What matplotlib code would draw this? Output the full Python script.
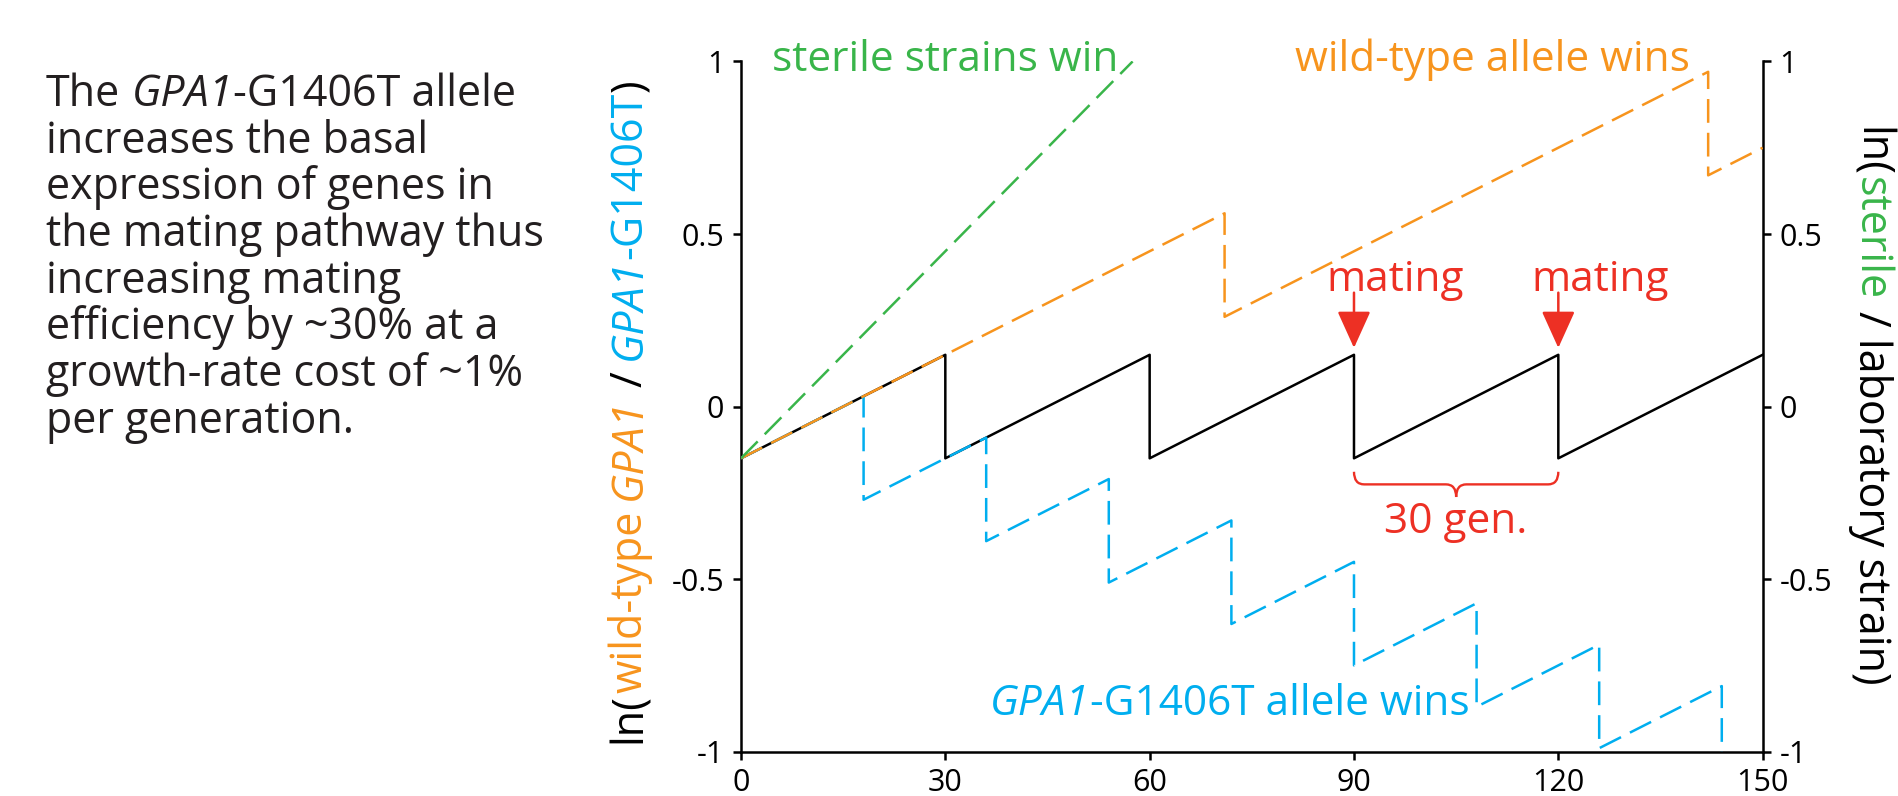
import matplotlib.pyplot as plt
from matplotlib.path import Path
from matplotlib.patches import PathPatch

plt.rcParams['font.family'] = ['Open Sans', 'DejaVu Sans']

# ---- data ----
gen_lab = [0, 30, 30, 60, 60, 90, 90, 120, 120, 150]
ln_lab = [-0.15, 0.15, -0.15, 0.15, -0.15, 0.15, -0.15, 0.15, -0.15, 0.15]

gen_wt = [0, 71, 71, 142, 142, 150]
ln_wt = [-0.15, 0.56, 0.26, 0.97, 0.67, 0.75]

gen_mut = [0, 18, 18, 36, 36, 54, 54, 72, 72, 90, 90, 108, 108, 126, 126, 144, 144]
ln_mut = [-0.15, 0.03, -0.27, -0.09, -0.39, -0.21, -0.51, -0.33, -0.63,
          -0.45, -0.75, -0.57, -0.87, -0.69, -0.99, -0.81, -1.11]

gen_sterile = [0, 57.5]
ln_sterile = [-0.15, 1.0]

mating_gen = [90, 120]

xticks = [0, 30, 60, 90, 120, 150]
xticklabels = ['0', '30', '60', '90', '120', '150']
yticks = [-1, -0.5, 0, 0.5, 1]
yticklabels = ['-1', '-0.5', '0', '0.5', '1']

para_lines = [
    [('The ', None), ('GPA1', 'italic'), ('-G1406T allele', None)],
    [('increases the basal', None)],
    [('expression of genes in', None)],
    [('the mating pathway thus', None)],
    [('increasing mating', None)],
    [('efficiency by ~30% at a', None)],
    [('growth-rate cost of ~1%', None)],
    [('per generation.', None)],
]

# colours
ink = '#231F20'
orange = '#F7941D'
green = '#39B54A'
blue = '#00AEEF'
red = '#ED3024'

fig = plt.figure(figsize=(18.99, 7.96), dpi=100)
ax = fig.add_axes([0.3902, 0.0557, 0.5380, 0.8671])
r = fig.canvas.get_renderer()
W, H = fig.bbox.width, fig.bbox.height

dash = (9.5, 4)
lw = 1.8
ax.plot(gen_lab, ln_lab, color='black', lw=lw, zorder=2)
ax.plot(gen_mut, ln_mut, color=blue, lw=lw, dashes=dash, zorder=3)
ax.plot(gen_wt, ln_wt, color=orange, lw=lw, dashes=dash, zorder=4)
ax.plot(gen_sterile, ln_sterile, color=green, lw=lw, dashes=dash, zorder=4)

ax.set_xlim(0, 150)
ax.set_ylim(-1, 1)
ax.set_xticks(xticks)
ax.set_xticklabels(xticklabels)
ax.set_yticks(yticks)
ax.set_yticklabels(yticklabels)
ax.spines['top'].set_visible(False)
for s in ['left', 'right', 'bottom']:
    ax.spines[s].set_linewidth(1.8)
ax.tick_params(direction='out', length=6, width=1.8, labelsize=22, pad=6,
               colors='black')
ax.tick_params(axis='y', right=True, labelright=True)


def piece_width(s, size, style):
    # advance width of s, spaces included (measured between two bars)
    t = fig.text(0, 0, '|' + s + '|', fontsize=size, style=style or 'normal')
    w = t.get_window_extent(r).width
    t.set_text('||')
    w -= t.get_window_extent(r).width
    t.remove()
    return w


def multi_text(px, py, pieces, size, align='left', rotation=0):
    # pieces: (text, colour, style); px, py in figure pixels from bottom-left
    widths = [piece_width(s, size, st) for s, c, st in pieces]
    sw = piece_width(' ', size, None)
    total = sum(widths)
    pos = -{'left': 0, 'center': total / 2, 'right': total}[align]
    for (s, c, st), w in zip(pieces, widths):
        lead = len(s) - len(s.lstrip(' '))
        p = pos + lead * sw
        if rotation == 0:
            x, y, kw = px + p, py, dict(ha='left', va='baseline')
        elif rotation == 90:
            x, y, kw = px, py + p, dict(ha='center', va='bottom')
        else:
            x, y, kw = px, py - p, dict(ha='center', va='top')
        fig.text(x / W, y / H, s.strip(' '), color=c, fontsize=size,
                 style=st or 'normal', rotation=rotation, **kw)
        pos += w


def data_px(x, y):
    return ax.transData.transform((x, y))


# left paragraph
for i, line in enumerate(para_lines):
    multi_text(46, H - 106 - i * 46.7, [(s, ink, st) for s, st in line], 31)

# axis labels
multi_text(630, 385, [('ln(', 'black', None), ('wild-type ', orange, None),
                      ('GPA1', orange, 'italic'), (' / ', 'black', None),
                      ('GPA1', blue, 'italic'), ('-G1406T', blue, None),
                      (')', 'black', None)], 31, align='center', rotation=90)
multi_text(1870, 390, [('ln(', 'black', None), ('sterile', green, None),
                       (' / laboratory strain)', 'black', None)], 31,
           align='center', rotation=270)

# annotations
multi_text(*data_px(4.6, 0.972), [('sterile strains win', green, None)], 30.5)
multi_text(*data_px(139.3, 0.972), [('wild-type allele wins', orange, None)], 30.5,
           align='right')
multi_text(*data_px(107, -0.894), [('GPA1', blue, 'italic'),
                                   ('-G1406T allele wins', blue, None)], 30.5,
           align='right')

for g in mating_gen:
    multi_text(*data_px(g - 4, 0.336), [('mating', red, None)], 30.5)
    ax.annotate('', xy=(g, 0.17), xytext=(g, 0.33),
                arrowprops=dict(arrowstyle='-|>,head_length=1.15,head_width=0.52',
                                color=red, lw=1.8, mutation_scale=20,
                                shrinkA=0, shrinkB=0))


def brace(x0, x1, ytop, ytip, dx=1.5):
    xm = (x0 + x1) / 2
    ym = (ytop + ytip) / 2
    verts = [(x0, ytop), (x0, ym), (x0 + dx, ym), (xm - dx, ym), (xm, ym), (xm, ytip),
             (xm, ym), (xm + dx, ym), (x1 - dx, ym), (x1, ym), (x1, ytop)]
    codes = [Path.MOVETO, Path.CURVE3, Path.CURVE3, Path.LINETO, Path.CURVE3, Path.CURVE3,
             Path.CURVE3, Path.CURVE3, Path.LINETO, Path.CURVE3, Path.CURVE3]
    return Path(verts, codes)


ax.add_patch(PathPatch(brace(mating_gen[0], mating_gen[1], -0.189, -0.262),
                       facecolor='none', edgecolor=red, lw=1.7))
multi_text(*data_px(105, -0.367), [('30 gen.', red, None)], 30.5, align='center')

fig.savefig('out.png', dpi=100)
